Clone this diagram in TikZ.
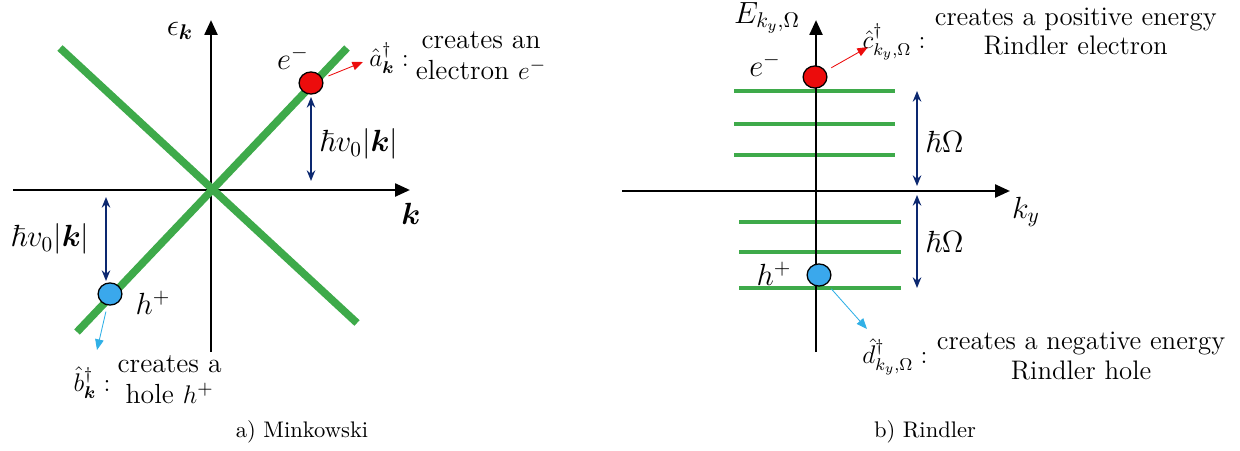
\documentclass[tikz,border=0pt]{standalone}
\usepackage{amsmath, amssymb}
\usepackage{bm}
\usepackage{xcolor}
\usetikzlibrary{arrows.meta, shapes.geometric, positioning}

\definecolor{bandgreen}{RGB}{62,170,74}
\definecolor{elred}{RGB}{236,12,12}
\definecolor{holeblue}{RGB}{58,168,236}
\definecolor{gapnavy}{RGB}{12,40,112}
\definecolor{holecyan}{RGB}{48,176,230}

\tikzset{
    axis/.style={line width=1.3pt, -{Triangle[length=7pt, width=6pt]}},
    band/.style={bandgreen, line width=3.6pt},
    level/.style={bandgreen, line width=2.3pt},
    particle/.style={ellipse, draw=black, line width=0.6pt, inner sep=0pt,
        minimum width=11.2pt, minimum height=10.4pt},
    gap/.style={gapnavy, line width=0.8pt, {Stealth[length=5pt, width=4pt]}-{Stealth[length=5pt, width=4pt]}},
    create/.style={line width=0.4pt, -{Triangle[length=5pt, width=4pt]}, shorten <=3pt},
    opname/.style={font=\large, inner sep=0pt},
    mink/.style={font=\fontsize{13}{14.8}\selectfont, align=center, inner sep=0pt},
    rind/.style={font=\fontsize{12.6}{13.8}\selectfont, align=center, inner sep=0pt},
    caption/.style={font=\fontsize{10.6}{12}\selectfont},
}

\begin{document}
\begin{tikzpicture}[x=0.47pt, y=-0.47pt]

    \useasboundingbox (0,0) rectangle (1240,450);

    % ==========================================
    % (a) Minkowski (left side)
    % ==========================================

    % Axes
    \coordinate (axAL) at (13,190);
    \coordinate (axAR) at (410,190);
    \coordinate (axAB) at (211,352);
    \coordinate (axAT) at (211,20);
    \draw[axis] (axAL) -- (axAR);
    \draw[axis] (axAB) -- (axAT);
    \node[font=\Large] (epsk) at (180,31) {$\epsilon_{\bm{k}}$};
    \node[font=\Large] (kvec) at (411,214) {$\bm{k}$};

    % Dirac cone
    \coordinate (coneUL) at (60,48);
    \coordinate (coneLR) at (357,323);
    \coordinate (coneUR) at (347,48);
    \coordinate (coneLL) at (77,332);
    \draw[band] (coneUL) -- (coneLR);
    \draw[band] (coneUR) -- (coneLL);

    % Electron
    \node[particle, fill=elred] (elA) at (311,83) {};
    \node[font=\Large] (elAlbl) at (293,58) {$e^{-}$};
    \coordinate (elAtip) at (363,62);
    \draw[create, elred] (elA) -- (elAtip);
    \node[opname] (opA) at (389,58) {$\hat{a}^{\dagger}_{\bm{k}}:$};
    \node[mink, right=3pt of opA, yshift=1pt] (txtA) {creates an\\electron $e^{-}$};

    % Gap arrows
    \coordinate (gapAt) at (311,97);
    \coordinate (gapAb) at (311,181);
    \draw[gap] (gapAt) -- (gapAb);
    \node[font=\Large, anchor=west, inner sep=0pt] (gapAlbl) at (319,144) {$\hbar v_0|\bm{k}|$};
    \coordinate (gapBt) at (106,197);
    \coordinate (gapBb) at (106,281);
    \draw[gap] (gapBt) -- (gapBb);
    \node[font=\Large, inner sep=0pt] (gapBlbl) at (50,239) {$\hbar v_0|\bm{k}|$};

    % Hole
    \node[particle, fill=holeblue] (hA) at (110,294) {};
    \node[font=\Large] (hAlbl) at (153,303) {$h^{+}$};
    \coordinate (hAtip) at (97,350);
    \draw[create, holecyan] (hA) -- (hAtip);
    \node[opname] (opB) at (92,383) {$\hat{b}^{\dagger}_{\bm{k}}:$};
    \node[mink, right=3pt of opB, yshift=1.5pt] (txtB) {creates a\\hole $h^{+}$};

    \node[caption] (capA) at (302,432) {a) Minkowski};

    % ==========================================
    % (b) Rindler (right side)
    % ==========================================

    % Axes
    \coordinate (axBL) at (622,191);
    \coordinate (axBR) at (1010,191);
    \coordinate (axBB) at (816,352);
    \coordinate (axBT) at (816,20);

    % Rindler levels
    \foreach \y in {91,124,155}
        \draw[level] (734,\y) -- (895,\y);
    \foreach \y in {222,252,288}
        \draw[level] (739,\y) -- (901,\y);

    \draw[axis] (axBL) -- (axBR);
    \draw[axis] (axBB) -- (axBT);
    \node[font=\Large] (Elbl) at (767,18) {$E_{k_y,\Omega}$};
    \node[font=\Large] (kylbl) at (1026,212) {$k_y$};

    % Electron
    \node[particle, fill=elred] (elB) at (815,77) {};
    \node[font=\Large] (elBlbl) at (765,65) {$e^{-}$};
    \coordinate (elBtip) at (868,47);
    \draw[create, elred] (elB) -- (elBtip);
    \node[opname] (opC) at (894,42) {$\hat{c}^{\dagger}_{k_y,\Omega}:$};
    \node[rind, right=4pt of opC, yshift=5pt] (txtC) {creates a positive energy\\Rindler electron};

    % Gap arrows
    \coordinate (gapCt) at (917,91);
    \coordinate (gapCb) at (917,186);
    \draw[gap] (gapCt) -- (gapCb);
    \node[font=\Large, anchor=west, inner sep=0pt] (gapClbl) at (925,142) {$\hbar\Omega$};
    \coordinate (gapDt) at (917,195);
    \coordinate (gapDb) at (917,288);
    \draw[gap] (gapDt) -- (gapDb);
    \node[font=\Large, anchor=west, inner sep=0pt] (gapDlbl) at (925,242) {$\hbar\Omega$};

    % Hole
    \node[particle, fill=holeblue] (hB) at (819,275) {};
    \node[font=\Large] (hBlbl) at (774,274) {$h^{+}$};
    \coordinate (hBtip) at (867,329);
    \draw[create, holecyan] (hB) -- (hBtip);
    \node[opname] (opD) at (895,357) {$\hat{d}^{\dagger}_{k_y,\Omega}:$};
    \node[rind, right=4pt of opD, yshift=0.5pt] (txtD) {creates a negative energy\\Rindler hole};

    \node[caption] (capB) at (925,432) {b) Rindler};

\end{tikzpicture}
\end{document}
